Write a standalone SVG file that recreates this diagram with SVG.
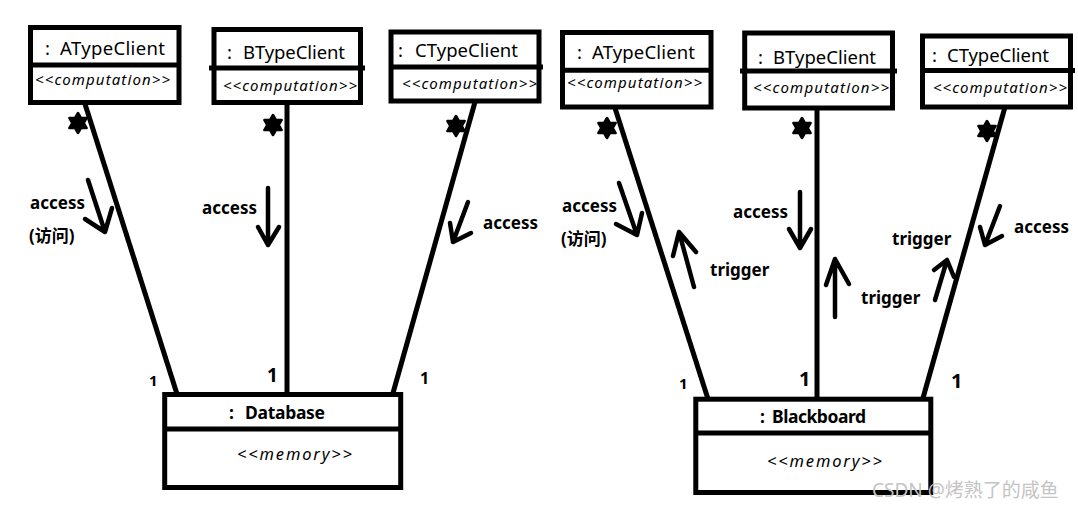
<svg xmlns="http://www.w3.org/2000/svg" width="1078" height="509" viewBox="0 0 1078 509">
<style>
.box{fill:#fff;stroke:#000;stroke-width:5}
.div{stroke:#000;stroke-width:5}
.conn{stroke:#000;stroke-width:5;fill:none}
.arr{stroke:#000;stroke-width:4.5;fill:none;stroke-linecap:round;stroke-linejoin:round}
.star{fill:#000;stroke:#000;stroke-width:2.5;stroke-linejoin:round}
.title{font-family:"Noto Sans","Liberation Sans",sans-serif;font-size:18.5px;fill:#000}
.stereo{font-family:"Noto Sans","Liberation Sans",sans-serif;font-size:15px;font-style:italic;fill:#000}
.bold{font-family:"Noto Sans","Liberation Sans",sans-serif;font-size:17.5px;font-weight:bold;fill:#000}
.mem{font-family:"Noto Sans","Liberation Sans",sans-serif;font-size:16.5px;font-style:italic;fill:#000}
.lbl{font-family:"Noto Sans","Noto Sans CJK SC",sans-serif;font-size:17px;font-weight:bold;fill:#000}
.mult{font-family:"Noto Sans","Liberation Sans",sans-serif;font-weight:bold;fill:#000}
.wm{font-family:"Noto Sans","Noto Sans CJK SC",sans-serif;font-size:19px;fill:#c4c4c4}
</style>
<defs>
<path id="star" d="M0,-10 L2.9,-5 L8.66,-5 L5.8,0 L8.66,5 L2.9,5 L0,10 L-2.9,5 L-8.66,5 L-5.8,0 L-8.66,-5 L-2.9,-5Z"/>
</defs>

<g id="connectors">
  <!-- left diagram -->
  <line class="conn" x1="85" y1="104" x2="177" y2="394"/>
  <line class="conn" x1="287" y1="103" x2="287" y2="394"/>
  <line class="conn" x1="475" y1="102" x2="393" y2="393"/>
  <!-- right diagram -->
  <line class="conn" x1="615" y1="108" x2="708" y2="399"/>
  <line class="conn" x1="817" y1="108" x2="817" y2="399"/>
  <line class="conn" x1="1005" y1="107" x2="923" y2="398"/>

  <!-- stars -->
  <use href="#star" class="star" x="78" y="123"/>
  <use href="#star" class="star" x="273" y="125"/>
  <use href="#star" class="star" x="456" y="126"/>
  <use href="#star" class="star" x="607" y="128"/>
  <use href="#star" class="star" x="802" y="128"/>
  <use href="#star" class="star" x="987" y="131"/>

  <!-- multiplicities -->
  <text class="mult" x="149" y="386" font-size="15">1</text>
  <text class="mult" x="267" y="382" font-size="19">1</text>
  <text class="mult" x="420" y="384" font-size="16">1</text>
  <text class="mult" x="679" y="389" font-size="15">1</text>
  <text class="mult" x="799" y="386" font-size="20">1</text>
  <text class="mult" x="951" y="388" font-size="20">1</text>

  <!-- arrows left -->
  <path class="arr" d="M88,180 L105,232 M85,219 L105,232 L112,208"/>
  <path class="arr" d="M268,188 L268,245 M258,227 L268,245 L279,227"/>
  <path class="arr" d="M468,202 L453,242 M450,223 L453,242 L471,233"/>
  <!-- arrows right -->
  <path class="arr" d="M619,183 L637,235 M616,224 L637,235 L642,213"/>
  <path class="arr" d="M694,287 L679,232 M673,256 L679,232 L696,252"/>
  <path class="arr" d="M800,192 L800,248 M789,229 L800,248 L811,229"/>
  <path class="arr" d="M835,317 L835,259 M826,285 L835,259 L849,284"/>
  <path class="arr" d="M1000,206 L985,245 M980,227 L985,245 L1002,236"/>
  <path class="arr" d="M935,300 L947,260 M934,270 L947,260 L954,277"/>

  <!-- labels -->
  <text class="lbl" x="30" y="209">access</text>
  <text class="lbl" x="29" y="242" font-size="18">(访问)</text>
  <text class="lbl" x="202" y="214">access</text>
  <text class="lbl" x="483" y="229">access</text>
  <text class="lbl" x="562" y="212">access</text>
  <text class="lbl" x="561" y="245" font-size="18">(访问)</text>
  <text class="lbl" x="710" y="276">trigger</text>
  <text class="lbl" x="733" y="218">access</text>
  <text class="lbl" x="861" y="304">trigger</text>
  <text class="lbl" x="892" y="245">trigger</text>
  <text class="lbl" x="1014" y="233">access</text>
</g>

<g id="node-a1">
  <rect class="box" x="30.5" y="27.5" width="148.5" height="75"/>
  <line class="div" x1="30.5" y1="65" x2="179" y2="65"/>
  <text class="title" y="55"><tspan x="45">:</tspan><tspan x="60" textLength="105">ATypeClient</tspan></text>
  <text class="stereo" x="35" y="85" textLength="135">&lt;&lt;computation&gt;&gt;</text>
</g>

<g id="node-b1">
  <rect class="box" x="214" y="29.5" width="146.5" height="73"/>
  <line class="div" x1="209" y1="68" x2="365" y2="68"/>
  <text class="title" y="59"><tspan x="227">:</tspan><tspan x="243" textLength="102">BTypeClient</tspan></text>
  <text class="stereo" x="223" y="91" textLength="134">&lt;&lt;computation&gt;&gt;</text>
</g>

<g id="node-c1">
  <rect class="box" x="391" y="32" width="148" height="69"/>
  <line class="div" x1="391" y1="67" x2="543" y2="67"/>
  <text class="title" y="57"><tspan x="398">:</tspan><tspan x="415" textLength="103">CTypeClient</tspan></text>
  <text class="stereo" x="402" y="89" textLength="135">&lt;&lt;computation&gt;&gt;</text>
</g>

<g id="node-a2">
  <rect class="box" x="562.5" y="32.5" width="148.5" height="74.5"/>
  <line class="div" x1="562.5" y1="70.3" x2="711" y2="70.3"/>
  <text class="title" y="59"><tspan x="577">:</tspan><tspan x="592" textLength="103">ATypeClient</tspan></text>
  <text class="stereo" x="567" y="88" textLength="135">&lt;&lt;computation&gt;&gt;</text>
</g>

<g id="node-b2">
  <rect class="box" x="744.7" y="33" width="147.8" height="75"/>
  <line class="div" x1="740" y1="71" x2="897" y2="71"/>
  <text class="title" y="64"><tspan x="758">:</tspan><tspan x="773" textLength="103">BTypeClient</tspan></text>
  <text class="stereo" x="753" y="93" textLength="136">&lt;&lt;computation&gt;&gt;</text>
</g>

<g id="node-c2">
  <rect class="box" x="922.5" y="36" width="148" height="71"/>
  <line class="div" x1="922.5" y1="70.5" x2="1075" y2="70.5"/>
  <text class="title" y="62"><tspan x="932">:</tspan><tspan x="947" textLength="102">CTypeClient</tspan></text>
  <text class="stereo" x="933" y="93" textLength="134">&lt;&lt;computation&gt;&gt;</text>
</g>

<g id="node-database">
  <rect class="box" x="164.7" y="394.5" width="236" height="93"/>
  <line class="div" x1="164.7" y1="429" x2="400.7" y2="429"/>
  <text class="bold" y="419"><tspan x="229">:</tspan><tspan x="245" textLength="80">Database</tspan></text>
  <text class="mem" x="237" y="460" textLength="115">&lt;&lt;memory&gt;&gt;</text>
</g>

<g id="node-blackboard">
  <rect class="box" x="695.8" y="399.2" width="235" height="93.3"/>
  <line class="div" x1="695.8" y1="433" x2="930.8" y2="433"/>
  <text class="bold" y="423"><tspan x="760">:</tspan><tspan x="772" textLength="94">Blackboard</tspan></text>
  <text class="mem" x="767" y="467" textLength="115">&lt;&lt;memory&gt;&gt;</text>
</g>

<text class="wm" x="872" y="497">CSDN @烤熟了的咸鱼</text>
</svg>
